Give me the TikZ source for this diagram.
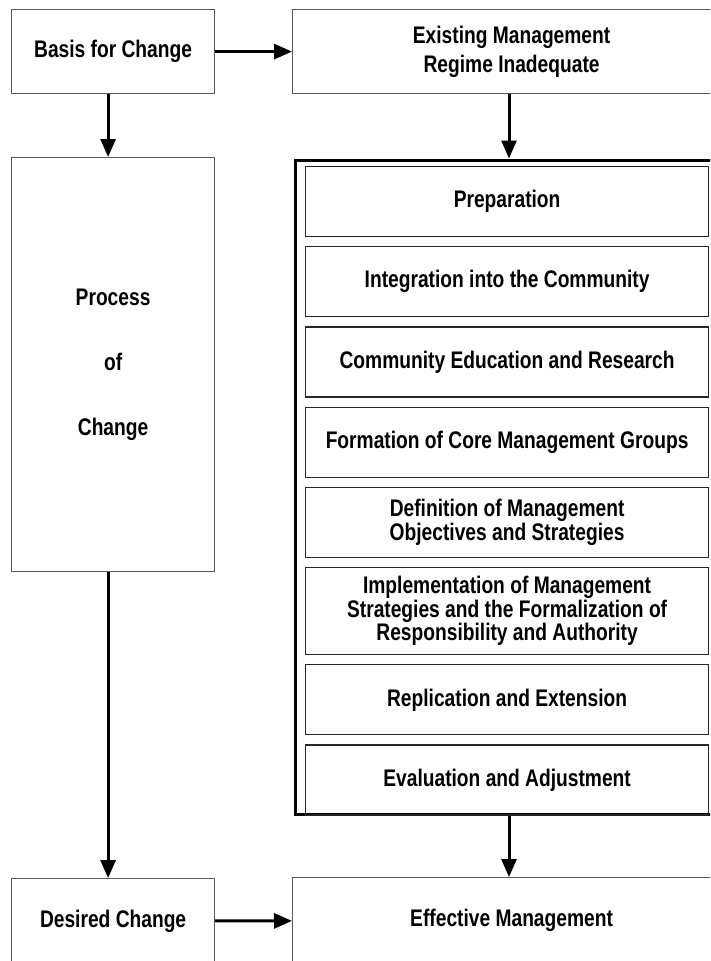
\documentclass[tikz,border=0pt]{standalone}
\usepackage{fontspec}
\setmainfont{Liberation Sans}[FakeStretch=0.8]
\usetikzlibrary{positioning,arrows.meta}

\begin{document}
\begin{tikzpicture}[
    x=1pt, y=-1pt,
    every node/.style={font=\fontsize{24}{22}\selectfont\bfseries},
    box/.style={rectangle, draw=black!65, line width=1.2pt, align=center, inner sep=0pt, anchor=north west},
    stage/.style={box, draw=black!85, minimum width=403pt, minimum height=70pt},
    frame/.style={rectangle, draw, line width=3pt, inner sep=0pt, anchor=north west, minimum width=428pt, minimum height=654pt},
    arrow/.style={-{Triangle[length=18pt,width=15pt]}, line width=3pt}
]
\path[use as bounding box, clip] (0,0) rectangle (710,961);

% Left column
\node[box, minimum width=203pt, minimum height=84pt] (basis) at (11,9) {Basis for Change};
\node[box, minimum width=203pt, minimum height=414pt] (process) at (11,157) {Process\\[43pt]of\\[43pt]Change};
\node[box, minimum width=203pt, minimum height=85pt] (desired) at (11,878) {Desired Change};

% Right column
\node[box, minimum width=438pt, minimum height=84pt] (existing) at (292,9) {Existing Management\\[6pt]Regime Inadequate};
\node[frame] (frame) at (293.5,158.5) {};
\node[box, minimum width=438pt, minimum height=86pt] (effective) at (292,877) {Effective Management};

% Stages inside the frame
\node[stage] (prep) at (305,166) {Preparation};
\node[stage, below=9pt of prep] (integ) {Integration into the Community};
\node[stage, below=9pt of integ] (educ) {Community Education and Research};
\node[stage, below=9pt of educ] (groups) {Formation of Core Management Groups};
\node[stage, below=9pt of groups] (objectives) {Definition of Management\\Objectives and Strategies};
\node[stage, below=9pt of objectives, minimum height=87pt] (implement) {Implementation of Management\\Strategies and the Formalization of\\Responsibility and Authority};
\node[stage, below=9pt of implement] (replicate) {Replication and Extension};
\node[stage, below=9pt of replicate] (evaluate) {Evaluation and Adjustment};

% Arrows
\draw[arrow] (basis) -- (existing);
\draw[arrow] ([xshift=-5pt]basis.south) -- ([xshift=-5pt]process.north);
\draw[arrow] (existing.south -| frame.north) -- (frame.north);
\draw[arrow] ([xshift=-5pt]process.south) -- ([xshift=-5pt]desired.north);
\draw[arrow] (frame.south) -- (frame.south |- effective.north);
\draw[arrow] (desired) -- (effective);

\end{tikzpicture}
\end{document}
